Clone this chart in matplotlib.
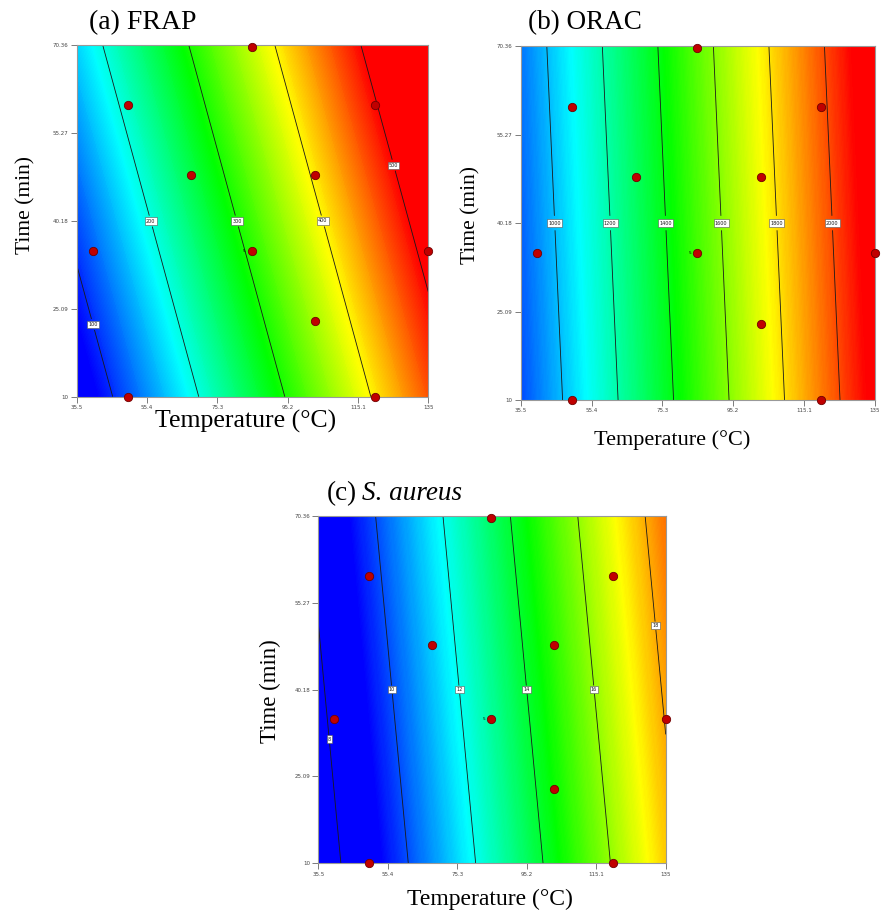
import matplotlib
matplotlib.use("Agg")
import matplotlib.pyplot as plt
import numpy as np
from matplotlib.colors import LinearSegmentedColormap, Normalize

# design region (corners) and axis ticks
temp_edges = [35.5, 135]
time_edges = [10, 70.36]
temp_ticks = [35.5, 55.4, 75.3, 95.2, 115.1, 135]
time_ticks = [10, 25.09, 40.18, 55.27, 70.36]
temp_ticklabels = ["35.5", "55.4", "75.3", "95.2", "115.1", "135"]
time_ticklabels = ["10", "25.09", "40.18", "55.27", "70.36"]

# experimental design points
design_temp = [85, 50, 120, 68, 103, 40, 85, 135, 103, 50, 120]
design_time = [70, 60, 60, 48, 48, 35, 35, 35, 23, 10, 10]

# predicted response at the four corners (rows: time 10, 70.36; cols: temp 35.5, 135)
frap_corners = [[58.1, 466.7], [169.7, 578.3]]
orac_corners = [[849, 2125], [906, 2181]]
saureus_corners = [[7.33, 17.64], [8.30, 18.61]]

frap_levels = [100, 200, 300, 400, 500]
orac_levels = [1000, 1200, 1400, 1600, 1800, 2000]
saureus_levels = [8, 10, 12, 14, 16, 18]

# where the contour labels sit (temp, time)
frap_label_pos = [(40.7, 22.5), (56.7, 40.18), (81.0, 40.18), (105.3, 40.18), (125.6, 49.8)]
orac_label_pos = [(45.2, 40.18), (60.6, 40.18), (76.3, 40.18), (92.0, 40.18), (107.5, 40.18), (123.0, 40.18)]
saureus_label_pos = [(38.7, 31.6), (56.5, 40.18), (75.8, 40.18), (95.0, 40.18), (114.3, 40.18), (132.0, 51.3)]

cmap = LinearSegmentedColormap.from_list(
    "de", ["#0000ff", "#00ffff", "#00ff00", "#ffff00", "#ff0000"])


def panel(fig, rect, corners, levels, label_pos, vmin, vmax):
    ax = fig.add_axes(rect)
    z = np.array(corners, dtype=float)
    fill_levels = np.linspace(z.min(), z.max(), 300)
    ax.contourf(temp_edges, time_edges, z, levels=fill_levels, cmap=cmap,
                norm=Normalize(vmin, vmax), antialiased=False)
    cs = ax.contour(temp_edges, time_edges, z, levels=levels, colors="#1a1a1a",
                    linewidths=0.6)
    labels = ax.clabel(cs, fontsize=3.5, inline=True, inline_spacing=1,
                       manual=label_pos, fmt="%g")
    for t in labels:
        t.set_rotation(0)
        t.set_bbox(dict(facecolor="white", edgecolor="#555555", pad=0.8, linewidth=0.4))
    ax.plot(design_temp, design_time, "o", ms=6, mfc="#c00000", mec="#700000",
            mew=0.6, clip_on=False, zorder=5)
    ax.text(83.3, 35, "5", fontsize=3, ha="right", va="center", zorder=6)
    ax.set_xlim(temp_edges)
    ax.set_ylim(time_edges)
    ax.set_xticks(temp_ticks)
    ax.set_xticklabels(temp_ticklabels)
    ax.set_yticks(time_ticks)
    ax.set_yticklabels(time_ticklabels)
    ax.tick_params(direction="out", length=4, width=0.6, color="#666666",
                   labelsize=4, labelcolor="#444444", pad=2)
    for s in ax.spines.values():
        s.set_color("#999999")
        s.set_linewidth(0.8)
    return ax


fig = plt.figure(figsize=(8.83, 9.19), dpi=100)
serif = "Liberation Serif"

panel(fig, [0.0868, 0.5683, 0.3982, 0.3827], frap_corners, frap_levels,
      frap_label_pos, 83, 502)
panel(fig, [0.5897, 0.5647, 0.4009, 0.3852], orac_corners, orac_levels,
      orac_label_pos, 750, 2100)
panel(fig, [0.3605, 0.0606, 0.3934, 0.3779], saureus_corners, saureus_levels,
      saureus_label_pos, 9.2, 19.8)

# titles
fig.text(89 / 883, 1 - 29 / 919, "(a) FRAP", family=serif, fontsize=20)
fig.text(528 / 883, 1 - 29 / 919, "(b) ORAC", family=serif, fontsize=19.5)
fig.text(327 / 883, 1 - 500 / 919, "(c)", family=serif, fontsize=19.5)
fig.text(362 / 883, 1 - 500 / 919, "S. aureus", family=serif, fontsize=19.5, style="italic")

# axis labels
fig.text(246 / 883, 1 - 421 / 919, "Temperature (°C)", family=serif, fontsize=18.5,
         ha="center", va="center")
fig.text(672 / 883, 1 - 440 / 919, "Temperature (°C)", family=serif, fontsize=16,
         ha="center", va="center")
fig.text(490 / 883, 1 - 899 / 919, "Temperature (°C)", family=serif, fontsize=17,
         ha="center", va="center")
fig.text(26 / 883, 1 - 205 / 919, "Time (min)", family=serif, fontsize=15.5,
         rotation=90, ha="center", va="center")
fig.text(471 / 883, 1 - 215 / 919, "Time (min)", family=serif, fontsize=15.5,
         rotation=90, ha="center", va="center")
fig.text(270 / 883, 1 - 691 / 919, "Time (min)", family=serif, fontsize=16.5,
         rotation=90, ha="center", va="center")

fig.savefig("out.png", dpi=100)
